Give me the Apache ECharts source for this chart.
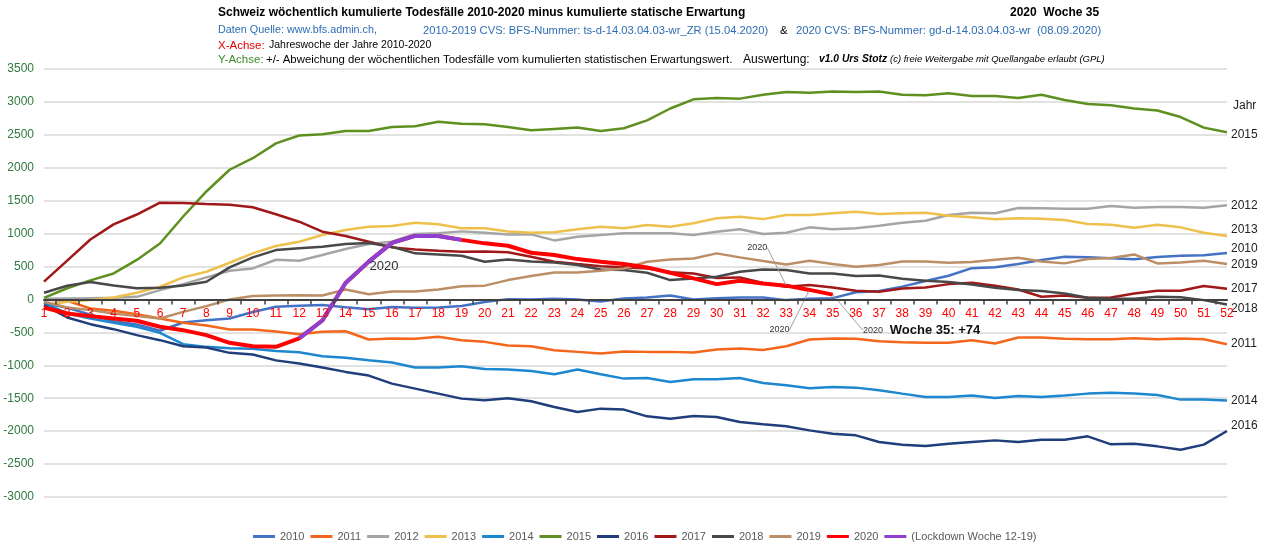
<!DOCTYPE html>
<html>
<head>
<meta charset="utf-8">
<script src="https://cdn.jsdelivr.net/npm/echarts@6/dist/echarts.min.js"></script>
<style>
html, body { margin: 0; padding: 0; background: #fff; }
#chart { width: 1268px; height: 547px; }
</style>
</head>
<body>
<div id="chart"></div>
<script>
var FONT = '"Liberation Sans", Arial, sans-serif';

var weeks = ['1','2','3','4','5','6','7','8','9','10','11','12','13','14','15','16','17','18','19','20',
    '21','22','23','24','25','26','27','28','29','30','31','32','33','34','35','36','37','38','39','40',
    '41','42','43','44','45','46','47','48','49','50','51','52'];

var w2010 = [-55,-125,-230,-330,-380,-475,-350,-315,-290,-190,-112,-95,-85,-120,-150,-115,-125,-122,-100,-40,
    5,0,10,0,-30,15,30,60,0,20,30,30,-10,10,20,110,130,195,280,360,
    475,490,540,600,650,640,625,610,645,665,670,705];
var w2011 = [0,-20,-137,-172,-223,-289,-355,-395,-456,-456,-485,-527,-492,-482,-608,-593,-598,-568,-618,-644,
    -700,-710,-771,-796,-821,-791,-796,-796,-806,-761,-745,-766,-710,-608,-593,-598,-634,-649,-659,-659,
    -618,-669,-578,-578,-598,-603,-603,-588,-603,-593,-603,-679];
var w2012 = [10,15,20,25,40,142,233,335,436,471,603,588,674,766,842,877,994,1004,1034,1014,
    986,989,897,953,979,1004,1004,1004,979,1029,1065,994,1014,1095,1065,1080,1120,1166,1196,1283,
    1318,1308,1389,1384,1379,1379,1420,1394,1404,1404,1394,1430];
var w2013 = [-86,-35,-10,30,101,193,335,421,558,700,811,877,979,1055,1105,1115,1166,1141,1080,1080,
    1032,1014,1019,1065,1105,1080,1131,1105,1156,1232,1257,1220,1283,1283,1308,1333,1298,1308,1318,1273,
    1247,1217,1232,1227,1207,1146,1136,1090,1136,1095,1014,963];
var w2014 = [-51,-213,-289,-355,-416,-507,-679,-720,-740,-750,-784,-801,-862,-887,-923,-958,-1034,-1034,-1014,-1055,
    -1062,-1085,-1136,-1065,-1136,-1202,-1192,-1252,-1212,-1212,-1192,-1268,-1303,-1349,-1328,-1339,-1379,-1430,-1480,-1480,
    -1460,-1496,-1465,-1480,-1460,-1430,-1415,-1430,-1450,-1521,-1521,-1536];
var w2015 = [25,170,290,395,600,850,1260,1640,1970,2145,2370,2490,2510,2560,2560,2620,2630,2700,2670,2660,
    2620,2570,2590,2610,2560,2600,2720,2900,3040,3060,3050,3110,3150,3140,3160,3150,3160,3110,3100,3130,
    3090,3090,3060,3110,3030,2970,2950,2900,2870,2770,2610,2540];
var w2016 = [-86,-274,-375,-451,-542,-618,-710,-730,-811,-837,-925,-973,-1034,-1100,-1156,-1278,-1354,-1430,-1506,-1531,
    -1500,-1546,-1633,-1709,-1658,-1673,-1775,-1810,-1769,-1785,-1861,-1896,-1927,-1988,-2038,-2064,-2165,-2205,-2226,-2190,
    -2165,-2140,-2165,-2130,-2130,-2079,-2200,-2190,-2231,-2282,-2205,-1997];
var w2017 = [270,590,910,1140,1290,1470,1465,1450,1440,1400,1295,1181,1029,963,877,791,760,740,725,730,
    718,650,573,537,505,490,470,415,395,325,335,250,193,218,183,132,117,167,183,233,
    254,208,152,41,61,25,30,91,132,132,203,162];
var w2018 = [101,208,264,213,172,177,213,269,487,639,750,776,801,842,857,801,700,684,664,573,
    608,578,563,522,456,446,405,294,320,345,420,456,446,395,395,355,365,314,284,264,
    228,177,142,127,91,25,10,10,41,35,-10,-76];
var w2019 = [-35,-122,-162,-213,-253,-289,-188,-101,0,51,61,65,60,150,80,120,120,150,200,210,
    294,355,411,411,436,471,573,608,623,700,639,583,532,588,537,497,522,578,578,558,
    568,603,634,578,548,613,629,684,548,563,588,537];
var w2020 = [-122,-213,-253,-289,-324,-415,-466,-542,-659,-710,-720,-590,-320,250,575,860,965,965,905,852,
    816,710,675,613,573,537,487,405,320,233,284,243,210,145,74];

// Lockdown Woche 12-19
var lockdownStart = 12;
var lockdown = [-590,-320,250,575,860,965,965,905];

var yearNames = ['2010','2011','2012','2013','2014','2015','2016','2017','2018','2019'];
var yearData = [w2010, w2011, w2012, w2013, w2014, w2015, w2016, w2017, w2018, w2019];
var yearColors = ['#4472C4','#F4661B','#A5A5A5','#EEC04C','#1D87CF','#5E9020','#203E7C','#A01818','#484848','#BC8E66'];
var endOffsets = [-4, 0, 0, -6, 0, 2, -5, 0, 4, 1];

var yMin = -3000, yMax = 3500;
var gridTop = 69, gridBottom = 50;

var dom = document.getElementById('chart');
var chart = echarts.init(dom);

// x-Achse auf der Nulllinie
var plotH = dom.clientHeight - gridTop - gridBottom;
var zeroOffset = -plotH * (0 - yMin) / (yMax - yMin);

var series = yearNames.map(function (name, i) {
    return {
        name: name,
        type: 'line',
        data: yearData[i],
        symbol: 'none',
        lineStyle: { color: yearColors[i], width: 2.5 },
        itemStyle: { color: yearColors[i] },
        endLabel: {
            show: true,
            formatter: '{a}',
            color: '#222',
            fontFamily: FONT,
            fontSize: 12,
            distance: 4,
            offset: [0, endOffsets[i]]
        },
        z: 2
    };
});

// Beschriftungen fuer 2020 (Woche 33, 34, 35)
var notes = {
    33: { dx: -29, dy: -28 },
    34: { dx: -30, dy: 50 },
    35: { dx: 89, dy: 48 }
};
var data2020 = w2020.map(function (v, i) {
    var wk = i + 1;
    if (!notes[wk]) return v;
    return {
        value: v,
        symbol: 'circle',
        symbolSize: 1,
        label: {
            show: true,
            formatter: wk === 35 ? '{s|2020}  {b|Woche 35: +' + v + '}' : '{s|2020}'
        }
    };
});

series.push({
    name: '2020',
    type: 'line',
    data: data2020,
    symbol: 'none',
    showAllSymbol: true,
    lineStyle: { color: '#FF0000', width: 4 },
    itemStyle: { color: '#FF0000' },
    label: {
        position: 'top',
        rich: {
            s: { fontFamily: FONT, fontSize: 9, color: '#333' },
            b: { fontFamily: FONT, fontSize: 13, fontWeight: 'bold', color: '#111' }
        }
    },
    labelLine: { show: true, lineStyle: { color: '#A0A0A0', width: 1 } },
    labelLayout: function (p) {
        var n = notes[p.dataIndex + 1];
        return n ? { dx: n.dx, dy: n.dy } : {};
    },
    z: 3
});

var lockData = weeks.map(function (w, i) {
    var k = i + 1 - lockdownStart;
    if (k < 0 || k >= lockdown.length) return null;
    if (i + 1 === 16) {
        return {
            value: lockdown[k],
            symbol: 'circle',
            symbolSize: 1,
            label: { show: true, formatter: '2020', position: 'bottom', offset: [-8, 12],
                fontFamily: FONT, fontSize: 13, color: '#333' }
        };
    }
    return lockdown[k];
});

series.push({
    name: '(Lockdown Woche 12-19)',
    type: 'line',
    data: lockData,
    symbol: 'none',
    showAllSymbol: true,
    lineStyle: { color: '#9040D0', width: 4 },
    itemStyle: { color: '#9040D0' },
    z: 4
});

// Teilstriche zwischen den Wochen
var tickCats = weeks.slice(0, 51);
series.push({ type: 'line', xAxisIndex: 1, yAxisIndex: 1, data: [], silent: true });

var textBlue = '#2E6DB4';
function txt(left, top, text, size, color, weight, style) {
    return { left: left, top: top, padding: 0, text: text,
        textStyle: { fontFamily: FONT, fontSize: size, fontWeight: weight || 'normal',
            fontStyle: style || 'normal', color: color } };
}

var option = {
    animation: false,
    backgroundColor: '#fff',
    title: [
        txt(218, 7, 'Schweiz wöchentlich kumulierte Todesfälle 2010-2020 minus kumulierte statische Erwartung', 12, '#000', 'bold'),
        txt(1010, 7, '2020  Woche 35', 12, '#000', 'bold'),
        txt(218, 25, 'Daten Quelle: www.bfs.admin.ch,', 10.8, textBlue),
        txt(423, 25, '2010-2019 CVS: BFS-Nummer: ts-d-14.03.04.03-wr_ZR (15.04.2020)', 11.2, textBlue),
        txt(780, 25, '&', 11.5, '#000'),
        txt(796, 25, '2020 CVS: BFS-Nummer: gd-d-14.03.04.03-wr  (08.09.2020)', 11.3, textBlue),
        txt(218, 40, 'X-Achse:', 11.5, '#E00000'),
        txt(269, 40, 'Jahreswoche der Jahre 2010-2020', 10.5, '#000'),
        txt(218, 54, 'Y-Achse:', 11.5, '#3B8B2A'),
        txt(266, 54, '+/- Abweichung der wöchentlichen Todesfälle vom kumulierten statistischen Erwartungswert.', 11.4, '#000'),
        txt(743, 54, 'Auswertung:', 12, '#000'),
        txt(819, 54, 'v1.0 Urs Stotz', 10.3, '#000', 'bold', 'italic'),
        txt(890, 54, '(c) freie Weitergabe mit Quellangabe erlaubt (GPL)', 9.5, '#000', 'normal', 'italic'),
        txt(1233, 100, 'Jahr', 12, '#222')
    ],
    grid: [
        { left: 44, right: 41, top: gridTop, bottom: gridBottom },
        { left: 55.6, right: 52.6, top: gridTop, bottom: gridBottom }
    ],
    legend: {
        bottom: 0,
        left: 248,
        icon: 'rect',
        itemWidth: 22,
        itemHeight: 3,
        itemGap: 6,
        textStyle: { fontFamily: FONT, fontSize: 11, color: '#595959' },
        data: yearNames.concat(['2020', '(Lockdown Woche 12-19)'])
    },
    xAxis: [
        {
            type: 'category',
            data: weeks,
            boundaryGap: false,
            offset: zeroOffset,
            axisLine: { onZero: false, lineStyle: { color: '#404040', width: 2 } },
            axisTick: { show: false },
            axisLabel: { interval: 0, color: '#FF0000', fontFamily: FONT, fontSize: 12, margin: 8 },
            splitLine: { show: false },
            z: 5
        },
        {
            type: 'category',
            gridIndex: 1,
            data: tickCats,
            boundaryGap: false,
            offset: zeroOffset,
            axisLine: { show: false, onZero: false },
            axisTick: { show: true, interval: 0, length: 5, lineStyle: { color: '#404040', width: 1.5 } },
            axisLabel: { show: false },
            z: 5
        }
    ],
    yAxis: [
        {
            type: 'value',
            min: yMin,
            max: yMax,
            interval: 500,
            axisLine: { show: false },
            axisTick: { show: false },
            axisLabel: { color: '#2F7A3F', fontFamily: FONT, fontSize: 12, margin: 10,
                formatter: function (v) { return String(v); } },
            splitLine: { lineStyle: { color: '#D9D9D9', width: 1.5 } }
        },
        {
            type: 'value',
            gridIndex: 1,
            min: yMin,
            max: yMax,
            interval: 500,
            show: false
        }
    ],
    series: series
};

chart.setOption(option);
</script>
</body>
</html>
